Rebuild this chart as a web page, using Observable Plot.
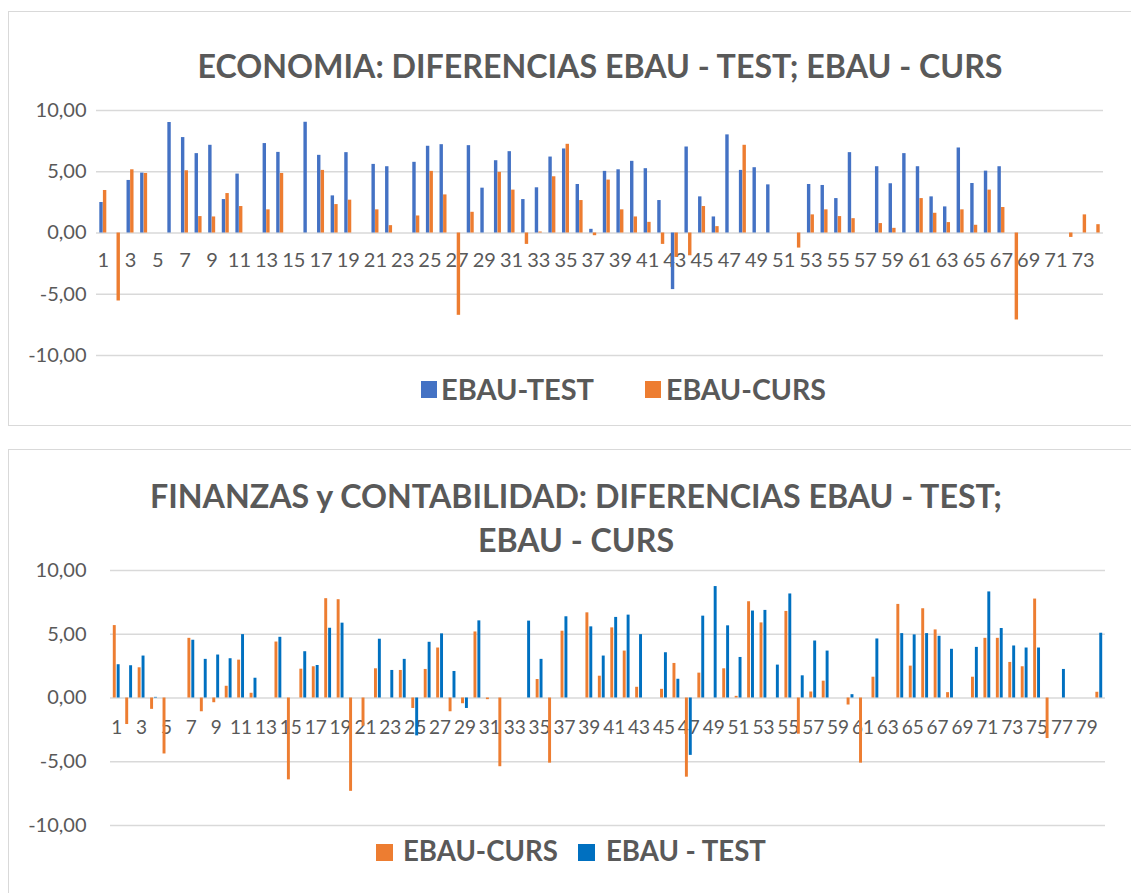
<!DOCTYPE html>
<html>
<head>
<meta charset="utf-8">
<script src="https://cdn.jsdelivr.net/npm/d3@7"></script>
<script src="https://cdn.jsdelivr.net/npm/@observablehq/plot@0.6"></script>
<style>
  html, body { margin: 0; padding: 0; background: #ffffff; }
  #page { position: relative; width: 1131px; height: 893px; overflow: hidden; font-family: Lato, "Open Sans", sans-serif; }
  .panel { position: absolute; border: 1.2px solid #d9d9d9; box-sizing: border-box; background: #fff; }
  .title { position: absolute; white-space: nowrap; font-weight: 700; color: #595959; line-height: 1.2; transform: translateX(-50%); }
  .leg { position: absolute; white-space: nowrap; font-weight: 700; color: #595959; line-height: 1.2; }
  .sw { position: absolute; }
  .chart { position: absolute; left: 0; }
</style>
</head>
<body>
<div id="page"></div>
<script>
// ---------- DATA ----------
const econCategories = [1,2,3,4,5,6,7,8,9,10,11,12,13,14,15,16,17,18,19,20,21,22,23,24,25,26,27,28,29,30,31,32,33,34,35,36,37,38,39,40,41,42,43,44,45,46,47,48,49,50,51,52,53,54,55,56,57,58,59,60,61,62,63,64,65,66,67,68,69,70,71,72,73,74];
const econTest = [2.49,null,4.29,4.89,null,9.02,7.79,6.48,7.16,2.73,4.81,null,7.30,6.58,null,9.04,6.34,3.03,6.56,null,5.60,5.41,null,5.77,7.08,7.21,null,7.13,3.66,5.90,6.64,2.73,3.69,6.20,6.86,3.96,0.30,5.03,5.16,5.85,5.25,2.65,-4.62,7.02,2.95,1.31,8.01,5.11,5.33,3.93,null,null,3.96,3.88,2.81,6.56,null,5.41,4.02,6.48,5.41,2.95,2.13,6.94,4.04,5.05,5.41,null,null,null,null,null,null,null];
const econCurs = [3.47,-5.55,5.16,4.86,null,null,5.08,1.34,1.31,3.22,2.16,null,1.89,4.86,null,null,5.11,2.32,2.68,null,1.89,0.60,null,1.39,5.03,3.11,-6.72,1.69,null,4.95,3.50,-0.93,0.08,4.59,7.24,2.65,-0.22,4.32,1.89,1.31,0.87,-0.93,-1.99,-1.86,2.16,0.52,null,7.16,null,null,null,-1.23,1.48,1.89,1.34,1.17,null,0.77,0.38,null,2.81,1.61,0.85,1.89,0.63,3.50,2.08,-7.10,null,null,null,-0.36,1.48,0.68];
const econXTicks = [1,3,5,7,9,11,13,15,17,19,21,23,25,27,29,31,33,35,37,39,41,43,45,47,49,51,53,55,57,59,61,63,65,67,69,71,73];
const econXTickLabels = ["1","3","5","7","9","11","13","15","17","19","21","23","25","27","29","31","33","35","37","39","41","43","45","47","49","51","53","55","57","59","61","63","65","67","69","71","73"];

const finCategories = [1,2,3,4,5,6,7,8,9,10,11,12,13,14,15,16,17,18,19,20,21,22,23,24,25,26,27,28,29,30,31,32,33,34,35,36,37,38,39,40,41,42,43,44,45,46,47,48,49,50,51,52,53,54,55,56,57,58,59,60,61,62,63,64,65,66,67,68,69,70,71,72,73,74,75,76,77,78,79,80];
const finCurs = [5.68,-2.08,2.37,-0.89,-4.39,null,4.68,-1.08,-0.37,0.92,2.97,0.37,null,4.39,-6.42,2.26,2.45,7.79,7.71,-7.32,-2.21,2.29,null,2.16,-0.82,2.24,3.92,-1.08,-0.45,5.18,-0.13,-5.39,null,null,1.45,-5.11,5.24,null,6.68,1.71,5.50,3.68,0.84,null,0.68,2.71,-6.21,1.95,null,2.29,0.13,7.55,5.89,null,6.79,-2.84,0.47,1.32,null,-0.55,-5.11,1.63,null,7.34,2.50,7.00,5.34,0.42,null,1.63,4.68,4.68,2.79,2.45,7.76,-3.18,null,null,null,0.45];
const finTest = [2.61,2.53,3.29,0.05,null,null,4.53,3.03,3.37,3.08,4.97,1.55,null,4.76,null,3.63,2.55,5.47,5.87,null,null,4.61,2.16,3.03,-2.97,4.37,5.03,2.08,-0.82,6.05,null,null,null,6.03,3.03,null,6.37,null,5.58,3.29,6.32,6.50,4.97,null,3.55,1.47,-4.50,6.42,8.74,5.66,3.18,6.82,6.87,2.58,8.16,1.74,4.47,3.68,null,0.26,null,4.63,null,5.05,4.95,5.05,4.84,3.82,null,3.97,8.32,5.45,4.08,3.92,3.92,null,2.24,null,null,5.08];
const finXTicks = [1,3,5,7,9,11,13,15,17,19,21,23,25,27,29,31,33,35,37,39,41,43,45,47,49,51,53,55,57,59,61,63,65,67,69,71,73,75,77,79];
const finXTickLabels = ["1","3","5","7","9","11","13","15","17","19","21","23","25","27","29","31","33","35","37","39","41","43","45","47","49","51","53","55","57","59","61","63","65","67","69","71","73","75","77","79"];

const yTicks = [-10, -5, 0, 5, 10];
const yTickLabels = ["-10,00", "-5,00", "0,00", "5,00", "10,00"];

const econTitle = "ECONOMIA: DIFERENCIAS EBAU - TEST; EBAU - CURS";
const finTitleLines = ["FINANZAS y CONTABILIDAD: DIFERENCIAS EBAU - TEST;", "EBAU - CURS"];
const econSeriesNames = ["EBAU-TEST", "EBAU-CURS"];
const finSeriesNames = ["EBAU-CURS", "EBAU - TEST"];

// ---------- STYLE ----------
const econColors = ["#4472C4", "#ED7D31"];
const finColors = ["#ED7D31", "#0070C0"];
const textColor = "#595959";
const gridColor = "#d9d9d9";

const page = document.getElementById("page");

function el(tag, cls, styles, text) {
  const e = document.createElement(tag);
  if (cls) e.className = cls;
  Object.assign(e.style, styles || {});
  if (text != null) e.textContent = text;
  page.appendChild(e);
  return e;
}

// panels
el("div", "panel", {left: "8px", top: "11px", width: "1135px", height: "415px"});
el("div", "panel", {left: "8px", top: "449px", width: "1135px", height: "480px"});

// titles (top = baseline - 0.987*fontSize)
el("div", "title", {left: "600px", top: "47px", fontSize: "32.2px"}, econTitle);
el("div", "title", {left: "576px", top: "477px", fontSize: "32.2px"}, finTitleLines[0]);
el("div", "title", {left: "576px", top: "521px", fontSize: "32.2px"}, finTitleLines[1]);

// legends
el("div", "sw", {left: "421px", top: "381px", width: "16px", height: "17px", background: econColors[0]});
el("div", "leg", {left: "441px", top: "372px", fontSize: "29px"}, econSeriesNames[0]);
el("div", "sw", {left: "645px", top: "381px", width: "16px", height: "17px", background: econColors[1]});
el("div", "leg", {left: "666px", top: "372px", fontSize: "28.5px"}, econSeriesNames[1]);

el("div", "sw", {left: "376px", top: "844px", width: "17px", height: "17px", background: finColors[0]});
el("div", "leg", {left: "403px", top: "834px", fontSize: "27.6px"}, finSeriesNames[0]);
el("div", "sw", {left: "578px", top: "844px", width: "17px", height: "17px", background: finColors[1]});
el("div", "leg", {left: "606px", top: "834px", fontSize: "27.6px"}, finSeriesNames[1]);

function rows(cats, vals) {
  return cats.map((c, i) => ({cat: c, v: vals[i]})).filter(d => d.v != null);
}

function chart(opts) {
  const svg = Plot.plot({
    width: 1131,
    height: opts.height,
    marginLeft: opts.marginLeft,
    marginRight: opts.marginRight,
    marginTop: 10,
    marginBottom: 10,
    style: {fontFamily: "Lato, 'Open Sans', sans-serif", color: textColor, background: "transparent", overflow: "visible"},
    x: {type: "band", domain: opts.cats, padding: 0, axis: null},
    y: {domain: [-10, 10], label: null},
    marks: [
      Plot.ruleY(yTicks, {stroke: gridColor, strokeWidth: 1.3}),
      Plot.axisY(yTicks, {tickSize: 0, tickPadding: opts.tickPadding, fontSize: 20, fill: textColor, label: null,
        tickFormat: d => yTickLabels[yTicks.indexOf(d)]}),
      Plot.text(opts.xTicks, {x: d => d, y: 0, text: (d, i) => opts.xTickLabels[i], lineAnchor: "top",
        dy: opts.labelDy, fontSize: opts.xFont, fill: textColor}),
      Plot.barY(rows(opts.cats, opts.series[0]), {x: "cat", y1: 0, y2: "v", fill: opts.colors[0],
        insetLeft: opts.insets[0][0], insetRight: opts.insets[0][1]}),
      Plot.barY(rows(opts.cats, opts.series[1]), {x: "cat", y1: 0, y2: "v", fill: opts.colors[1],
        insetLeft: opts.insets[1][0], insetRight: opts.insets[1][1]})
    ]
  });
  svg.classList.add("chart");
  svg.style.top = opts.top + "px";
  page.appendChild(svg);
}

chart({
  top: 100, height: 265, marginLeft: 96, marginRight: 28, tickPadding: 10,
  cats: econCategories, series: [econTest, econCurs], colors: econColors,
  insets: [[3.3, 6.9], [6.9, 3.3]],
  xTicks: econXTicks, xTickLabels: econXTickLabels, labelDy: 20, xFont: 20
});

chart({
  top: 560, height: 275, marginLeft: 110, marginRight: 26, tickPadding: 24,
  cats: finCategories, series: [finCurs, finTest], colors: finColors,
  insets: [[2.8, 6.7], [6.7, 2.8]],
  xTicks: finXTicks, xTickLabels: finXTickLabels, labelDy: 22, xFont: 19
});
</script>
</body>
</html>
